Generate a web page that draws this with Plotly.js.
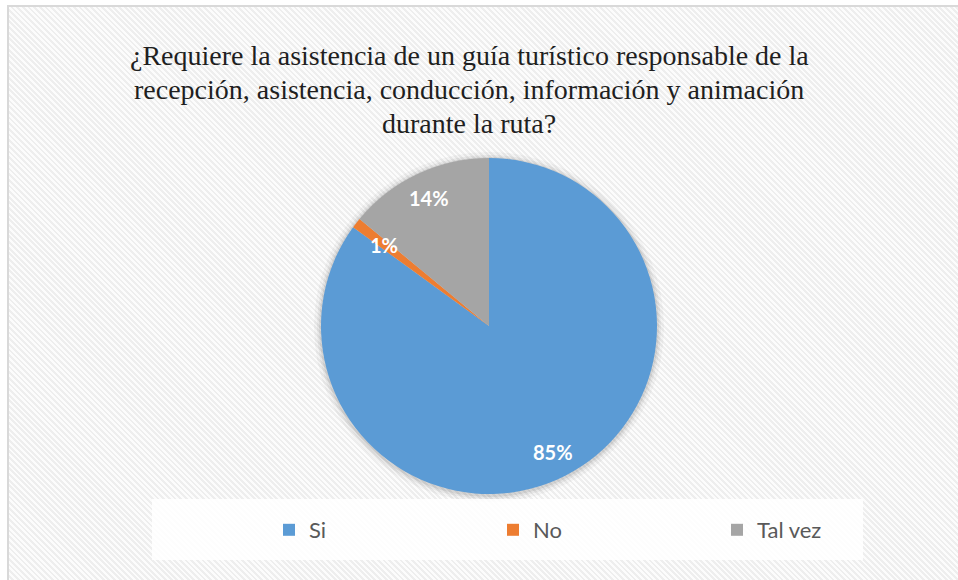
<!DOCTYPE html>
<html>
<head>
<meta charset="utf-8">
<script src="https://cdn.plot.ly/plotly-3.0.1.min.js"></script>
<style>
html,body{margin:0;padding:0;background:#ffffff;overflow:hidden;}
#frame{position:absolute;left:7px;top:5px;width:951px;height:575px;box-sizing:border-box;
  border-left:2px solid #d9d9d9;border-top:2px solid #d9d9d9;
  background:repeating-linear-gradient(45deg,#fcfcfc 0px,#fcfcfc 2px,#eeeeee 2px,#eeeeee 4px);}
#chart{position:absolute;left:0;top:0;width:958px;height:580px;}
</style>
</head>
<body>
<div id="frame"></div>
<div id="chart"></div>
<script>
// ---- data ----
const categories = ["Si", "No", "Tal vez"];
const values = [85, 1, 14];
const labelsText = ["85%", "1%", "14%"];
const colors = ["#5B9BD5", "#ED7D31", "#A5A5A5"];
const titleLines = [
  "¿Requiere la asistencia de un guía turístico responsable de la",
  "recepción, asistencia, conducción, información y animación",
  "durante la ruta?"
];

// ---- geometry ----
const W = 958, H = 580;
const cx = 489, cy = 326, R = 168;
const domX = [(cx - R) / W, (cx + R) / W];
const domY = [1 - (cy + R) / H, 1 - (cy - R) / H];

const annotations = [];

// title lines (centred, serif)
const titleCentres = [56, 90, 123];
titleLines.forEach((t, i) => {
  annotations.push({
    x: 469 / W, y: 1 - titleCentres[i] / H, xref: "paper", yref: "paper",
    text: t, showarrow: false, xanchor: "center", yanchor: "middle",
    font: {family: "'Liberation Serif', 'Times New Roman', serif", size: 28, color: "#1f1f1f"}
  });
});

// data labels placed along each slice's mid-angle (clockwise from 12 o'clock)
const total = values.reduce((a, b) => a + b, 0);
let cum = 0;
values.forEach((v, i) => {
  const mid = (cum + v / 2) / total * 2 * Math.PI;
  cum += v;
  const rr = R * (i === 1 ? 0.79 : 0.84);
  const px = cx + rr * Math.sin(mid);
  const py = cy - rr * Math.cos(mid);
  annotations.push({
    x: px / W, y: 1 - py / H, xref: "paper", yref: "paper",
    text: "<b>" + labelsText[i] + "</b>", showarrow: false,
    font: {family: "Lato, 'Open Sans', sans-serif", size: 20, color: "#ffffff"},
    xanchor: "center", yanchor: "middle"
  });
});

// soft shadow circles around the pie
const shapes = [];
[[7, 0.035], [4, 0.05], [2, 0.07]].forEach(([d, a]) => {
  shapes.push({
    type: "circle", xref: "paper", yref: "paper", layer: "below",
    x0: (cx - R - d) / W, x1: (cx + R + d) / W,
    y0: 1 - (cy + R + d + 1) / H, y1: 1 - (cy - R - d + 1) / H,
    fillcolor: "rgba(0,0,0," + a + ")", line: {width: 0}
  });
});
// legend box
shapes.push({
  type: "rect", xref: "paper", yref: "paper", layer: "below",
  x0: 152 / W, x1: 863 / W, y0: 1 - 560 / H, y1: 1 - 499 / H,
  fillcolor: "rgba(255,255,255,0.85)", line: {width: 0}
});

const trace = {
  type: "pie",
  labels: categories,
  values: values,
  sort: false,
  direction: "clockwise",
  rotation: 0,
  textinfo: "none",
  hoverinfo: "label+percent",
  marker: {colors: colors, line: {width: 0}},
  domain: {x: domX, y: domY}
};

const layout = {
  width: W, height: H,
  margin: {l: 0, r: 0, t: 0, b: 0},
  paper_bgcolor: "rgba(0,0,0,0)",
  plot_bgcolor: "rgba(0,0,0,0)",
  showlegend: true,
  legend: {
    orientation: "h",
    x: 269 / W, xanchor: "left",
    y: 1 - 530 / H, yanchor: "middle",
    bgcolor: "rgba(0,0,0,0)",
    font: {family: "Lato, 'Open Sans', sans-serif", size: 22, color: "#595959"},
    entrywidth: 179, entrywidthmode: "pixels",
    itemwidth: 30,
    traceorder: "normal"
  },
  shapes: shapes,
  annotations: annotations
};

Plotly.newPlot("chart", [trace], layout, {displayModeBar: false, staticPlot: true});
</script>
</body>
</html>
